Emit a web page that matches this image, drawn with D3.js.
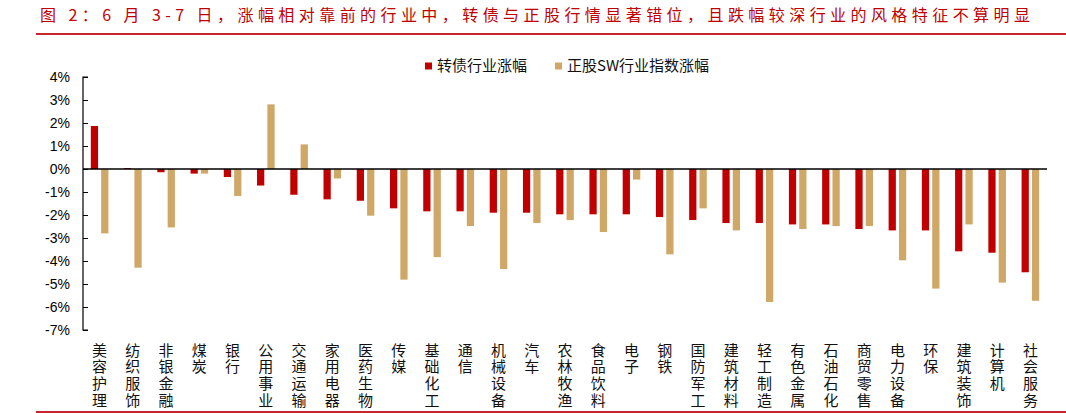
<!DOCTYPE html>
<html><head><meta charset="utf-8">
<script src="https://cdn.jsdelivr.net/npm/d3@7"></script>
<style>
html,body{margin:0;padding:0;background:#fff;}
svg{display:block;font-family:"Liberation Sans",Arial,"Noto Sans CJK SC",sans-serif;}
</style></head>
<body><svg id="c" width="1066" height="413"></svg>
<script>
const titleText = "图 2：6 月 3-7 日，涨幅相对靠前的行业中，转债与正股行情显著错位，且跌幅较深行业的风格特征不算明显";
const categories = ["美容护理","纺织服饰","非银金融","煤炭","银行","公用事业","交通运输","家用电器","医药生物","传媒","基础化工","通信","机械设备","汽车","农林牧渔","食品饮料","电子","钢铁","国防军工","建筑材料","轻工制造","有色金属","石油石化","商贸零售","电力设备","环保","建筑装饰","计算机","社会服务"];
const seriesNames = ["转债行业涨幅","正股SW行业指数涨幅"];
const cbReturn = [1.87,0.04,-0.14,-0.2,-0.35,-0.72,-1.12,-1.32,-1.38,-1.71,-1.84,-1.84,-1.9,-1.9,-1.97,-1.97,-1.97,-2.09,-2.22,-2.35,-2.35,-2.41,-2.41,-2.61,-2.67,-2.67,-3.58,-3.64,-4.49];
const swReturn = [-2.8,-4.29,-2.54,-0.2,-1.17,2.81,1.07,-0.41,-2.03,-4.81,-3.83,-2.48,-4.35,-2.35,-2.22,-2.74,-0.46,-3.71,-1.71,-2.67,-5.78,-2.61,-2.48,-2.48,-3.97,-5.2,-2.41,-4.94,-5.73];
const yTicks = [4,3,2,1,0,-1,-2,-3,-4,-5,-6,-7];
const colors = ["#C00000","#CFA766"];

const svg = d3.select("#c");
const L = 83, R = 1047, T = 77, B = 330;

// title
svg.append("text").attr("x",40).attr("y",21).attr("fill","#C00000")
  .attr("font-size",16).attr("font-family","'Noto Sans CJK SC',sans-serif")
  .attr("textLength",990).attr("lengthAdjust","spacing").text(titleText);
svg.append("line").attr("x1",36).attr("x2",1066).attr("y1",34).attr("y2",34)
  .attr("stroke","#C8252C").attr("stroke-width",2);
svg.append("line").attr("x1",36).attr("x2",1066).attr("y1",412).attr("y2",412)
  .attr("stroke","#C8252C").attr("stroke-width",2);

const y = d3.scaleLinear().domain([-7,4]).range([B,T]);
const x0 = d3.scaleBand().domain(categories).range([L,R]).paddingInner(0).paddingOuter(0);
const groupW = 17.6;
const x1 = d3.scaleBand().domain([0,1]).range([0,groupW]).paddingInner(0.3);
const off = (x0.bandwidth()-groupW)/2;

const data = categories.map((c,i)=>({c, v:[cbReturn[i], swReturn[i]]}));
const g = svg.append("g");
data.forEach(d=>{
  d.v.forEach((v,k)=>{
    g.append("rect")
      .attr("x", x0(d.c)+off+x1(k))
      .attr("width", x1.bandwidth())
      .attr("y", y(Math.max(0,v)))
      .attr("height", Math.abs(y(v)-y(0)))
      .attr("fill", colors[k]);
  });
});

// y axis
const yAxis = d3.axisRight(y).tickValues(yTicks).tickSize(5).tickFormat(()=> "");
const ya = svg.append("g").attr("transform",`translate(${L},0)`).call(yAxis);
ya.select(".domain").attr("stroke","#000").attr("stroke-width",1.2).attr("d",`M5,${T}H0V${B}H5`);
ya.selectAll(".tick line").attr("stroke","#000");
svg.append("g").selectAll("text").data(yTicks).join("text")
  .attr("x",70).attr("y",d=>y(d)).attr("dy","0.35em").attr("text-anchor","end")
  .attr("font-size",14).attr("fill","#000").text(d=>d+"%");

// zero line
svg.append("line").attr("x1",L).attr("x2",R).attr("y1",y(0)).attr("y2",y(0))
  .attr("stroke","#000").attr("stroke-width",1.5);

// x labels vertical (single text per label, vertical writing mode)
const xl = svg.append("g").attr("font-size",15).attr("fill","#111")
  .attr("font-family","'Noto Sans CJK SC',sans-serif");
categories.forEach(c=>{
  const cx = x0(c)+x0.bandwidth()/2;
  xl.append("text").attr("x",cx).attr("y",342.5)
    .style("writing-mode","vertical-rl").style("text-orientation","upright")
    .attr("letter-spacing",1.7).text(c);
});

// legend
const lg = svg.append("g").attr("font-family","'Noto Sans CJK SC',sans-serif").attr("font-size",15);
const legX = [425,555];
seriesNames.forEach((s,k)=>{
  lg.append("rect").attr("x",legX[k]).attr("y",62.5).attr("width",7).attr("height",7).attr("fill",colors[k]);
  lg.append("text").attr("x",legX[k]+12).attr("y",66).attr("dy","0.35em").attr("fill","#111").text(s);
});
</script></body></html>
